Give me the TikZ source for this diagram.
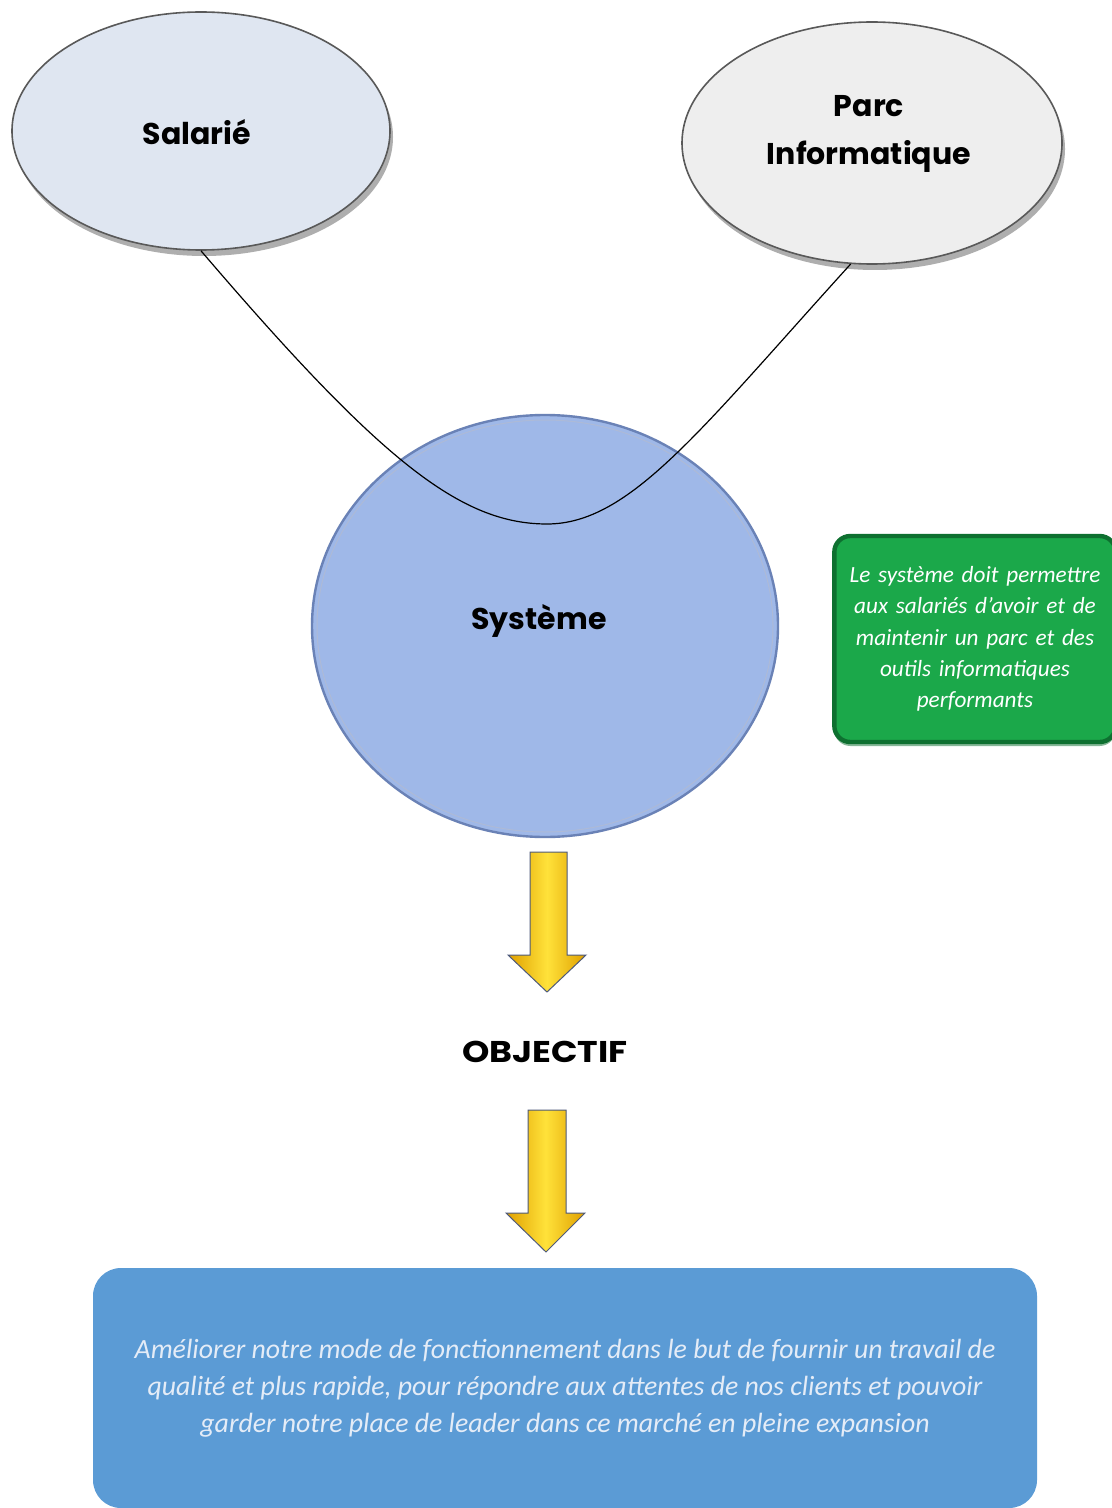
\documentclass[tikz,border=0pt]{standalone}
\usepackage{fontspec}
\usepackage{graphicx}
\setmainfont{Carlito}
\newfontfamily\headfont{Poppins}
\usetikzlibrary{shapes.geometric,shadows}

\definecolor{salfill}{HTML}{DFE6F1}
\definecolor{parcfill}{HTML}{EEEEEE}
\definecolor{sysfill}{HTML}{9FB8E8}
\definecolor{sysline}{HTML}{6A82B6}
\definecolor{greenfill}{HTML}{1BA84A}
\definecolor{greenline}{HTML}{0E7030}
\definecolor{goalfill}{HTML}{5B9BD5}
\definecolor{goaltext}{HTML}{E4ECF7}
\definecolor{arrowedge}{HTML}{4E5A7A}
\definecolor{arrowdark}{HTML}{E0A000}
\definecolor{arrowlight}{HTML}{FFE23A}

\tikzset{
  bubble/.style={ellipse, draw=black!65, line width=0.8pt, inner sep=0pt,
    drop shadow={shadow xshift=1.5pt, shadow yshift=-3pt, opacity=0.45, fill=black!70}},
  headtext/.style={font=\headfont\bfseries\fontsize{15}{24}\selectfont, align=center},
  link/.style={draw=black, line width=0.6pt},
  downarrow/.style={draw=arrowedge, line width=0.5pt, left color=arrowdark,
    right color=arrowdark, middle color=arrowlight},
  notebox/.style={rectangle, rounded corners=8pt, fill=greenfill, draw=greenline,
    line width=2.2pt, text=white, align=center,
    font=\itshape\fontsize{11.6}{15.6}\selectfont,
    drop shadow={shadow xshift=0pt, shadow yshift=-2pt, opacity=0.5, fill=greenline}},
  goalbox/.style={rectangle, rounded corners=14pt, fill=goalfill, text=goaltext,
    align=center, font=\itshape\fontsize{13.9}{18.6}\selectfont}
}

\begin{document}
\begin{tikzpicture}[x=0.5pt, y=-0.5pt]
  \useasboundingbox (0,0) rectangle (1112,1508);
  \fill[white] (0,0) rectangle (1112,1508);

  % the two actors
  \node[bubble, fill=salfill, minimum width=189pt, minimum height=119pt]
    (sal) at (201,131) {};
  \node[headtext] (saltext) at (197,132) {Salarié};
  \node[bubble, fill=parcfill, minimum width=190pt, minimum height=121pt]
    (parc) at (872,143) {};
  \node[headtext] (parctext) at (869,134) {Parc\\Informatique};

  % the system
  \node[ellipse, fill=sysfill, draw=sysline, line width=1.2pt, inner sep=0pt,
        minimum width=233pt, minimum height=211pt] (sys) at (545,626) {};
  \node[ellipse, draw=sysline!55, line width=0.5pt, inner sep=0pt,
        minimum width=228pt, minimum height=206pt] (sysring) at (545,626) {};
  \node[headtext] (systext) at (539,621) {Système};

  % link between actors through the system
  \coordinate (dip) at (547,524);
  \draw[link] (sal.south) .. controls (380,460) and (460,524) .. (dip)
                          .. controls (630,524) and (700,430) .. (parc.260);

  % side note
  \node[notebox, minimum width=138pt, minimum height=103pt, text width=134pt]
    (note) at (975,639)
    {Le système doit permettre\\aux salariés d’avoir et de\\maintenir un parc et des\\outils informatiques\\performants};

  % arrows and objective
  \path[downarrow] (530,852) -- (567,852) -- (567,955) -- (586,955) -- (547,992)
                   -- (508,955) -- (530,955) -- cycle;
  \node[headtext] (obj) at (545,1052) {\scalebox{1.16}[1]{OBJECTIF}};
  \path[downarrow] (528,1110) -- (566,1110) -- (566,1213) -- (585,1213) -- (546,1252)
                   -- (506,1213) -- (528,1213) -- cycle;

  % goal
  \node[goalbox, minimum width=472pt, minimum height=120pt] (goal) at (565,1388)
    {Améliorer notre mode de fonctionnement dans le but de fournir un travail de\\
     qualité et plus rapide, pour répondre aux attentes de nos clients et pouvoir\\
     garder notre place de leader dans ce marché en pleine expansion};
\end{tikzpicture}
\end{document}
